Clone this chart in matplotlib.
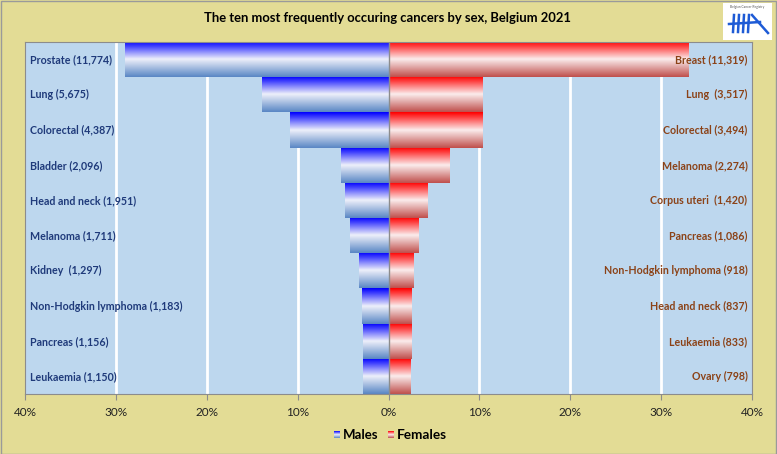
import numpy as np
import matplotlib
matplotlib.use("Agg")
import matplotlib.pyplot as plt
from matplotlib.colors import LinearSegmentedColormap
from matplotlib.patches import Rectangle

plt.rcParams['font.family'] = ['Lato', 'DejaVu Sans']

# ---- data ----
male_labels = ["Prostate (11,774)", "Lung (5,675)", "Colorectal (4,387)", "Bladder (2,096)",
               "Head and neck (1,951)", "Melanoma (1,711)", "Kidney  (1,297)",
               "Non-Hodgkin lymphoma (1,183)", "Pancreas (1,156)", "Leukaemia (1,150)"]
male_pct = [29.0, 13.9, 10.8, 5.2, 4.8, 4.2, 3.2, 2.9, 2.8, 2.8]
female_labels = ["Breast (11,319)", "Lung  (3,517)", "Colorectal (3,494)", "Melanoma (2,274)",
                 "Corpus uteri  (1,420)", "Pancreas (1,086)", "Non-Hodgkin lymphoma (918)",
                 "Head and neck (837)", "Leukaemia (833)", "Ovary (798)"]
female_pct = [33.0, 10.3, 10.3, 6.7, 4.2, 3.3, 2.7, 2.5, 2.5, 2.4]
tick_vals = [-40, -30, -20, -10, 0, 10, 20, 30, 40]
title = "The ten most frequently occuring cancers by sex, Belgium 2021"

BG = "#E3DC95"
PLOT_BG = "#BDD7EE"

def grad(top, mid, bot, n=64):
    cm = LinearSegmentedColormap.from_list("g", [(0, top), (0.5, mid), (1, bot)])
    return cm(np.linspace(0, 1, n))[:, None, :3]

male_grad = grad("#0000FF", "#EEF0FA", "#5A87C5")
female_grad = grad("#FF0000", "#FBEDED", "#C0504D")

fig = plt.figure(figsize=(7.77, 4.54), dpi=100, facecolor=BG)
W, H = 777, 454
ax = fig.add_axes([25 / W, (H - 394) / H, (752 - 25) / W, (394 - 42) / H])
ax.set_facecolor(PLOT_BG)

n = len(male_pct)
y = np.arange(n)
ax.set_xlim(-40, 40)
ax.set_ylim(n - 0.5, -0.5)

for xv in [-30, -20, -10, 10, 20, 30]:
    ax.axvline(xv, color="white", lw=2, zorder=1)

def gradient_bars(values, sign, g):
    bars = ax.barh(y, [sign * v for v in values], height=1.0, left=0,
                   facecolor="none", edgecolor="none", zorder=2)
    for b, yy in zip(bars, y):
        x0 = b.get_x(); x1 = x0 + b.get_width()
        im = ax.imshow(g, extent=(min(x0, x1), max(x0, x1), yy + 0.5, yy - 0.5),
                       origin="upper", aspect="auto", zorder=2, interpolation="bilinear")
        im.set_clip_path(b)

gradient_bars(male_pct, -1, male_grad)
gradient_bars(female_pct, 1, female_grad)
ax.set_xlim(-40, 40)
ax.set_ylim(n - 0.5, -0.5)
ax.axvline(0, color="#8C8C8C", lw=1, zorder=3)

for yy, lab in zip(y, male_labels):
    ax.text(-39.5, yy, lab, ha="left", va="center", color="#1F3A7A",
            fontsize=7.7, fontweight="bold", zorder=4)
for yy, lab in zip(y, female_labels):
    ax.text(39.5, yy, lab, ha="right", va="center", color="#8B4217",
            fontsize=7.7, fontweight="bold", zorder=4)

ax.set_xticks(tick_vals)
ax.set_xticklabels([f"{abs(v)}%" for v in tick_vals], fontsize=8.5, color="#222222")
ax.set_yticks([])
ax.tick_params(axis="x", direction="out", length=4, color="#8C8C8C", pad=5)
for s in ["top", "right", "left", "bottom"]:
    ax.spines[s].set_color("#8C8C8C")
    ax.spines[s].set_linewidth(0.8)

fig.text(388 / W, 1 - 18 / H, title, ha="center", va="center", fontsize=9.4,
         fontweight="bold", color="black")

# legend
def leg_patch(xc, g):
    lax = fig.add_axes([(xc - 3) / W, 1 - 438 / H, 6 / W, 7 / H])
    lax.imshow(g, aspect="auto", extent=(0, 1, 0, 1))
    lax.axis("off")
leg_patch(337, male_grad)
fig.text(343 / W, 1 - 435 / H, "Males", ha="left", va="center", fontsize=9.5,
         fontweight="bold", color="black")
leg_patch(391, female_grad)
fig.text(397 / W, 1 - 435 / H, "Females", ha="left", va="center", fontsize=9.8,
         fontweight="bold", color="black")

# logo
fig.patches.append(Rectangle((723 / W, 1 - 40 / H), 49 / W, 37 / H, transform=fig.transFigure,
                             facecolor="white", edgecolor="none"))
fig.text(747 / W, 1 - 7 / H, "Belgian Cancer Registry", ha="center", va="center",
         fontsize=2.3, color="#555555")
lc = "#1E5BD6"
for xs in [734, 739, 744, 749]:
    fig.add_artist(plt.Line2D([xs / W, (xs - 1) / W], [1 - 15 / H, 1 - 32 / H],
                              transform=fig.transFigure, color=lc, lw=1.8))
fig.add_artist(plt.Line2D([729 / W, 760 / W], [1 - 24 / H, 1 - 22 / H],
                          transform=fig.transFigure, color=lc, lw=1.8))
fig.add_artist(plt.Line2D([752 / W, 768 / W], [1 - 15 / H, 1 - 33 / H],
                          transform=fig.transFigure, color=lc, lw=1.8))

# figure border
fig.patches.append(Rectangle((0.5 / W, 0.5 / H), 1 - 1.5 / W, 1 - 1.5 / H, transform=fig.transFigure,
                             facecolor="none", edgecolor="#9A9A9A", lw=1))

fig.savefig("out.png", dpi=100, facecolor=BG)
